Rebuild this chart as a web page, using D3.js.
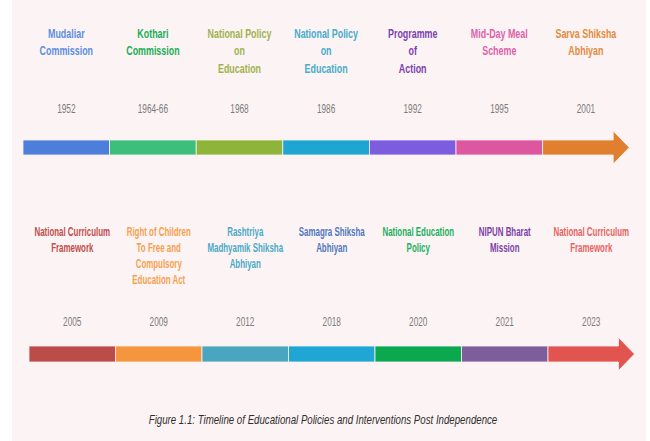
<!DOCTYPE html>
<html><head><meta charset="utf-8">
<script src="https://cdn.jsdelivr.net/npm/d3@7"></script>
<style>html,body{margin:0;padding:0;background:#fff;}svg{display:block;}</style>
</head><body>
<svg id="chart" width="650" height="441"></svg>
<script>
// ---- data ----
const topLabels = [["Mudaliar","Commission"],["Kothari","Commission"],["National Policy","on","Education"],["National Policy","on","Education"],["Programme","of","Action"],["Mid-Day Meal","Scheme"],["Sarva Shiksha","Abhiyan"]];
const topYears = ["1952","1964-66","1968","1986","1992","1995","2001"];
const topBarColors = ["#4b7fdb","#3cbf7b","#8eb43a","#1fa5d1","#7c5cdf","#dc56a0","#e07f2e"];
const topTextColors = ["#5b8de2","#17ad57","#9fb24e","#47abcb","#7a3eb1","#e05fa9","#e48a3c"];

const bottomLabels = [["National Curriculum","Framework"],["Right of Children","To Free and","Compulsory","Education Act"],["Rashtriya","Madhyamik Shiksha","Abhiyan"],["Samagra Shiksha","Abhiyan"],["National Education","Policy"],["NIPUN Bharat","Mission"],["National Curriculum","Framework"]];
const bottomYears = ["2005","2009","2012","2018","2020","2021","2023"];
const bottomBarColors = ["#bb4c49","#f5963f","#48a7bf","#1fa6d4","#0aa84f","#7e5d9c","#e2544f"];
const bottomTextColors = ["#c24c4c","#f5a04f","#4aaac6","#4f78bf","#1bb060","#7d40a6","#e86262"];

const caption = "Figure 1.1: Timeline of Educational Policies and Interventions Post Independence";

// ---- drawing ----
const svg = d3.select("#chart");
svg.append("rect").attr("x",12).attr("y",0).attr("width",634).attr("height",441).attr("fill","#fcf4f4");

const FONT = "'Liberation Sans Narrow','Arial Narrow','Liberation Sans',sans-serif";
const SX = 0.66;

function drawRow(cfg){
  const n = cfg.years.length;
  const x = d3.scaleBand().domain(d3.range(n)).range([cfg.x0, cfg.x0 + cfg.step*n]).padding(0);
  const g = svg.append("g");
  const head = 16, headHalf = 16.5;
  d3.range(n).forEach(i=>{
    const xs = x(i), w = x.bandwidth();
    const yTop = cfg.barY, h = cfg.barH, cy = yTop + h/2;
    if(i < n-1){
      g.append("rect").attr("x",xs).attr("y",yTop).attr("width",w).attr("height",h)
        .attr("fill",cfg.barColors[i]).attr("stroke","#fdf0f0").attr("stroke-width",0.8);
    } else {
      const xe = xs + w;
      const pts = [[xs,yTop],[xe-head,yTop],[xe-head,cy-headHalf],[xe,cy],[xe-head,cy+headHalf],[xe-head,yTop+h],[xs,yTop+h]];
      g.append("path").attr("d","M"+pts.map(p=>p.join(",")).join("L")+"Z")
        .attr("fill",cfg.barColors[i]).attr("stroke","#fdf0f0").attr("stroke-width",0.8);
    }
  });
  d3.range(n).forEach(i=>{
    const cx = x(i) + cfg.step/2;
    g.append("text").attr("transform",`translate(${cx},${cfg.yearY}) scale(${SX},1)`)
      .attr("text-anchor","middle").attr("font-family",FONT)
      .attr("font-size",cfg.yearSize).attr("fill","#7b7b7b").text(cfg.years[i]);
  });
  d3.range(n).forEach(i=>{
    const cx = x(i) + cfg.step/2;
    cfg.labels[i].forEach((line,j)=>{
      g.append("text").attr("transform",`translate(${cx},${cfg.labelY + j*cfg.lineH}) scale(${SX},1)`)
        .attr("text-anchor","middle").attr("font-family",FONT)
        .attr("font-weight","bold").attr("font-size",cfg.labelSize).attr("fill",cfg.textColors[i]).text(line);
    });
  });
}

drawRow({labels:topLabels, years:topYears, barColors:topBarColors, textColors:topTextColors,
  x0:23, step:86.6, barY:140, barH:15, yearY:113, yearSize:12.5, labelY:37.5, lineH:17.8, labelSize:13.5});
drawRow({labels:bottomLabels, years:bottomYears, barColors:bottomBarColors, textColors:bottomTextColors,
  x0:29, step:86.5, barY:346, barH:16, yearY:326, yearSize:12.5, labelY:236, lineH:16, labelSize:12});

svg.append("text").attr("transform","translate(323,424) scale(0.745,1)").attr("text-anchor","middle")
  .attr("font-family",FONT).attr("font-style","italic")
  .attr("font-size",13).attr("fill","#2e2e2e").text(caption);
</script>
</body></html>
